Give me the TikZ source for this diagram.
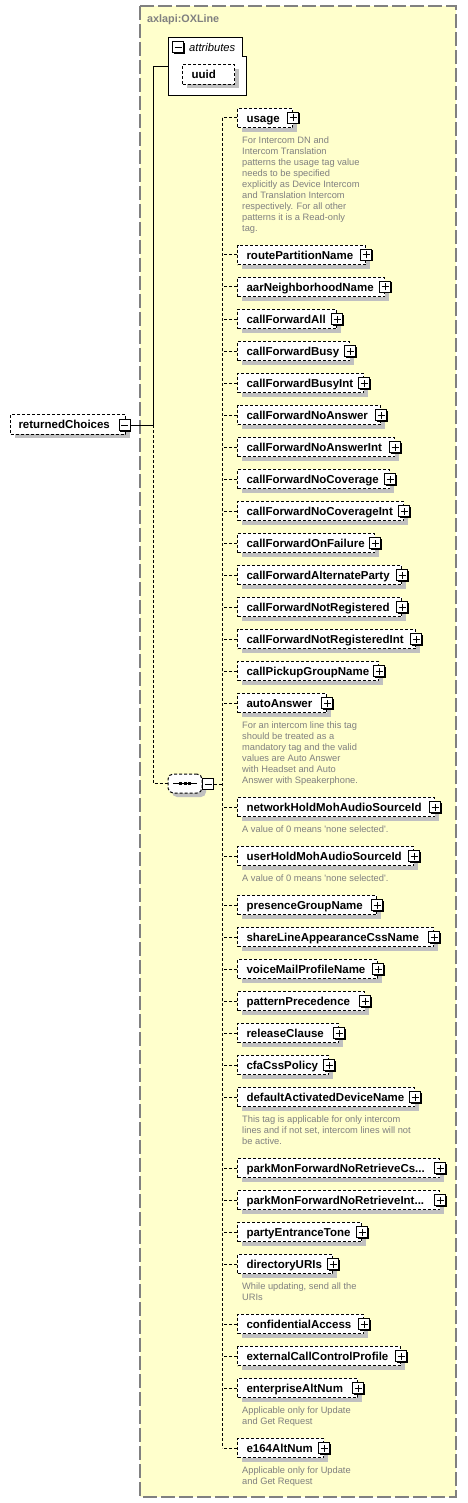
\documentclass[tikz,border=0pt]{standalone}
\usepackage{fontspec}
\setmainfont{Liberation Sans}
\usetikzlibrary{shadows}

\definecolor{typeyellow}{RGB}{255,255,204}
\definecolor{framegray}{RGB}{128,128,128}
\definecolor{notegray}{RGB}{128,128,128}
\definecolor{shadowgray}{RGB}{192,192,192}

\begin{document}
\begin{tikzpicture}[
    x=1pt, y=-1pt,
    elem/.style={draw, line width=1pt, dash pattern=on 3pt off 2pt, fill=white, anchor=west, align=left,
        minimum height=19.5pt, inner xsep=9pt, inner ysep=0pt, text height=10pt, text depth=1.8pt,
        font=\fontsize{11.5}{13}\selectfont\bfseries,
        drop shadow={shadow xshift=4pt, shadow yshift=-4pt, fill=shadowgray, opacity=1}},
    plusbox/.style={draw, line width=1pt, fill=white, minimum size=11pt, inner sep=0pt,
        drop shadow={shadow xshift=1pt, shadow yshift=-1pt, fill=black, opacity=1},
        path picture={\draw[line width=1pt] ([xshift=-3.5pt]path picture bounding box.center) -- ([xshift=3.5pt]path picture bounding box.center)
            ([yshift=-3.5pt]path picture bounding box.center) -- ([yshift=3.5pt]path picture bounding box.center);}},
    minusbox/.style={draw, line width=1pt, fill=white, minimum size=11pt, inner sep=0pt,
        drop shadow={shadow xshift=1pt, shadow yshift=-1pt, fill=black, opacity=1},
        path picture={\draw[line width=1pt] ([xshift=-3.5pt]path picture bounding box.center) -- ([xshift=3.5pt]path picture bounding box.center);}},
    seqbox/.style={draw, line width=1pt, dash pattern=on 3pt off 2pt, fill=white, rounded corners=5pt,
        minimum width=34pt, minimum height=19pt, inner sep=0pt,
        drop shadow={shadow xshift=4pt, shadow yshift=-4pt, fill=shadowgray, opacity=1}},
    note/.style={anchor=north west, align=left, inner sep=0pt, text=notegray, font=\fontsize{9.3}{11}\selectfont},
    conn/.style={line width=1pt, dash pattern=on 3pt off 2pt},
    tree/.style={line width=1pt}
]
    \useasboundingbox (0,0) rectangle (467,1503);

    % Complex type frame
    \draw[framegray, line width=1.5pt, dash pattern=on 14pt off 4pt, fill=typeyellow] (140,6) rectangle (456,1497);
    \node[anchor=base west, inner sep=0pt, text=framegray, font=\fontsize{10.8}{13}\selectfont\bfseries] (title) at (147,23) {axlapi:OXLine};

    % Attributes
    \draw[line width=1pt, fill=white] (168,38) -- (242,38) -- (242,57) -- (246,57) -- (246,96) -- (168,96) -- cycle;
    \node[minusbox] (attr-x) at (178,47.5) {};
    \node[anchor=base west, inner sep=0pt, font=\fontsize{11.2}{13}\selectfont\itshape] (attr-lbl) at (189,52) {attributes};
    \node[elem, text width=34pt] (uuid) at (182,74.5) {uuid};
    \coordinate (attr-in) at (168,67);

    % Root element and sequence
    \node[elem, inner xsep=8pt, text width=99pt] (rc) at (10,424.5) {returnedChoices};
    \node[minusbox] (rc-x) at (124.5,425) {};
    \coordinate (hub) at (153,425);
    \node[seqbox] (seq) at (185,783.5) {};
    \draw[solid, line width=1pt] ([xshift=-12pt]seq.center) -- ([xshift=12pt]seq.center);
    \fill ([xshift=-4.5pt]seq.center) +(-1.5pt,-1.5pt) rectangle +(1.5pt,1.5pt);
    \fill (seq.center) +(-1.5pt,-1.5pt) rectangle +(1.5pt,1.5pt);
    \fill ([xshift=4.5pt]seq.center) +(-1.5pt,-1.5pt) rectangle +(1.5pt,1.5pt);
    \node[minusbox, minimum size=10.5pt] (seq-x) at (208,784) {};
    \coordinate (spine) at (222,784);

    % Child elements
    \node[elem, text width=37pt] (usage) at (237,118) {usage};
    \node[note] (usage-note) at ([xshift=5pt, yshift=-8pt]usage.south west) {For Intercom DN and\\Intercom Translation\\patterns the usage tag value\\needs to be specified\\explicitly as Device Intercom\\and Translation Intercom\\respectively. For all other\\patterns it is a Read-only\\tag.};
    \node[elem, text width=110pt] (routePartitionName) at (237,255) {routePartitionName};
    \node[elem, text width=129pt] (aarNeighborhoodName) at (237,287) {aarNeighborhoodName};
    \node[elem, text width=81pt] (callForwardAll) at (237,319) {callForwardAll};
    \node[elem, text width=94pt] (callForwardBusy) at (237,351) {callForwardBusy};
    \node[elem, text width=108pt] (callForwardBusyInt) at (237,383) {callForwardBusyInt};
    \node[elem, text width=125pt] (callForwardNoAnswer) at (237,415) {callForwardNoAnswer};
    \node[elem, text width=139pt] (callForwardNoAnswerInt) at (237,447) {callForwardNoAnswerInt};
    \node[elem, text width=134pt] (callForwardNoCoverage) at (237,479) {callForwardNoCoverage};
    \node[elem, text width=148pt] (callForwardNoCoverageInt) at (237,511) {callForwardNoCoverageInt};
    \node[elem, text width=119pt] (callForwardOnFailure) at (237,543) {callForwardOnFailure};
    \node[elem, text width=146pt] (callForwardAlternateParty) at (237,575) {callForwardAlternateParty};
    \node[elem, text width=146pt] (callForwardNotRegistered) at (237,607) {callForwardNotRegistered};
    \node[elem, text width=160pt] (callForwardNotRegisteredInt) at (237,639) {callForwardNotRegisteredInt};
    \node[elem, text width=123pt] (callPickupGroupName) at (237,671) {callPickupGroupName};
    \node[elem, text width=71pt] (autoAnswer) at (237,703) {autoAnswer};
    \node[note] (autoAnswer-note) at ([xshift=5pt, yshift=-8pt]autoAnswer.south west) {For an intercom line this tag\\should be treated as a\\mandatory tag and the valid\\values are Auto Answer\\with Headset and Auto\\Answer with Speakerphone.};
    \node[elem, text width=179pt] (networkHoldMohAudioSourceId) at (237,807) {networkHoldMohAudioSourceId};
    \node[note] (networkHold-note) at ([xshift=5pt, yshift=-8pt]networkHoldMohAudioSourceId.south west) {A value of 0 means \textquotesingle none selected\textquotesingle.};
    \node[elem, text width=158pt] (userHoldMohAudioSourceId) at (237,856) {userHoldMohAudioSourceId};
    \node[note] (userHold-note) at ([xshift=5pt, yshift=-8pt]userHoldMohAudioSourceId.south west) {A value of 0 means \textquotesingle none selected\textquotesingle.};
    \node[elem, text width=121pt] (presenceGroupName) at (237,905) {presenceGroupName};
    \node[elem, text width=178pt] (shareLineAppearanceCssName) at (237,937) {shareLineAppearanceCssName};
    \node[elem, text width=122pt] (voiceMailProfileName) at (237,969) {voiceMailProfileName};
    \node[elem, text width=109pt] (patternPrecedence) at (237,1001) {patternPrecedence};
    \node[elem, text width=83pt] (releaseClause) at (237,1033) {releaseClause};
    \node[elem, text width=73pt] (cfaCssPolicy) at (237,1065) {cfaCssPolicy};
    \node[elem, text width=159pt] (defaultActivatedDeviceName) at (237,1097) {defaultActivatedDeviceName};
    \node[note] (defaultActivated-note) at ([xshift=5pt, yshift=-8pt]defaultActivatedDeviceName.south west) {This tag is applicable for only intercom\\lines and if not set, intercom lines will not\\be active.};
    \node[elem, text width=184pt] (parkMonCss) at (237,1168) {parkMonForwardNoRetrieveCs...};
    \node[elem, text width=184pt] (parkMonInt) at (237,1200) {parkMonForwardNoRetrieveInt...};
    \node[elem, text width=106pt] (partyEntranceTone) at (237,1232) {partyEntranceTone};
    \node[elem, text width=77pt] (directoryURIs) at (237,1264) {directoryURIs};
    \node[note] (directoryURIs-note) at ([xshift=5pt, yshift=-8pt]directoryURIs.south west) {While updating, send all the\\URIs};
    \node[elem, text width=108pt] (confidentialAccess) at (237,1324) {confidentialAccess};
    \node[elem, text width=145pt] (externalCallControlProfile) at (237,1356) {externalCallControlProfile};
    \node[elem, text width=102pt] (enterpriseAltNum) at (237,1388) {enterpriseAltNum};
    \node[note] (enterpriseAltNum-note) at ([xshift=5pt, yshift=-8pt]enterpriseAltNum.south west) {Applicable only for Update\\and Get Request};
    \node[elem, text width=68pt] (e164AltNum) at (237,1448) {e164AltNum};
    \node[note] (e164AltNum-note) at ([xshift=5pt, yshift=-8pt]e164AltNum.south west) {Applicable only for Update\\and Get Request};

    % Connectors
    \draw[tree] (attr-in) -| (hub) -- (rc-x.east);
    \draw[conn] (hub) |- (seq.west);
    \draw[conn] (seq-x.east) -- (spine);
    \draw[conn] (usage.west -| spine) -- (e164AltNum.west -| spine);
    \foreach \n in {usage, routePartitionName, aarNeighborhoodName, callForwardAll, callForwardBusy,
        callForwardBusyInt, callForwardNoAnswer, callForwardNoAnswerInt, callForwardNoCoverage,
        callForwardNoCoverageInt, callForwardOnFailure, callForwardAlternateParty, callForwardNotRegistered,
        callForwardNotRegisteredInt, callPickupGroupName, autoAnswer, networkHoldMohAudioSourceId,
        userHoldMohAudioSourceId, presenceGroupName, shareLineAppearanceCssName, voiceMailProfileName,
        patternPrecedence, releaseClause, cfaCssPolicy, defaultActivatedDeviceName, parkMonCss, parkMonInt,
        partyEntranceTone, directoryURIs, confidentialAccess, externalCallControlProfile, enterpriseAltNum, e164AltNum} {
        \node[plusbox] (\n-x) at (\n.east) {};
        \draw[conn] (\n.west) -- (\n.west -| spine);
    }
\end{tikzpicture}
\end{document}
